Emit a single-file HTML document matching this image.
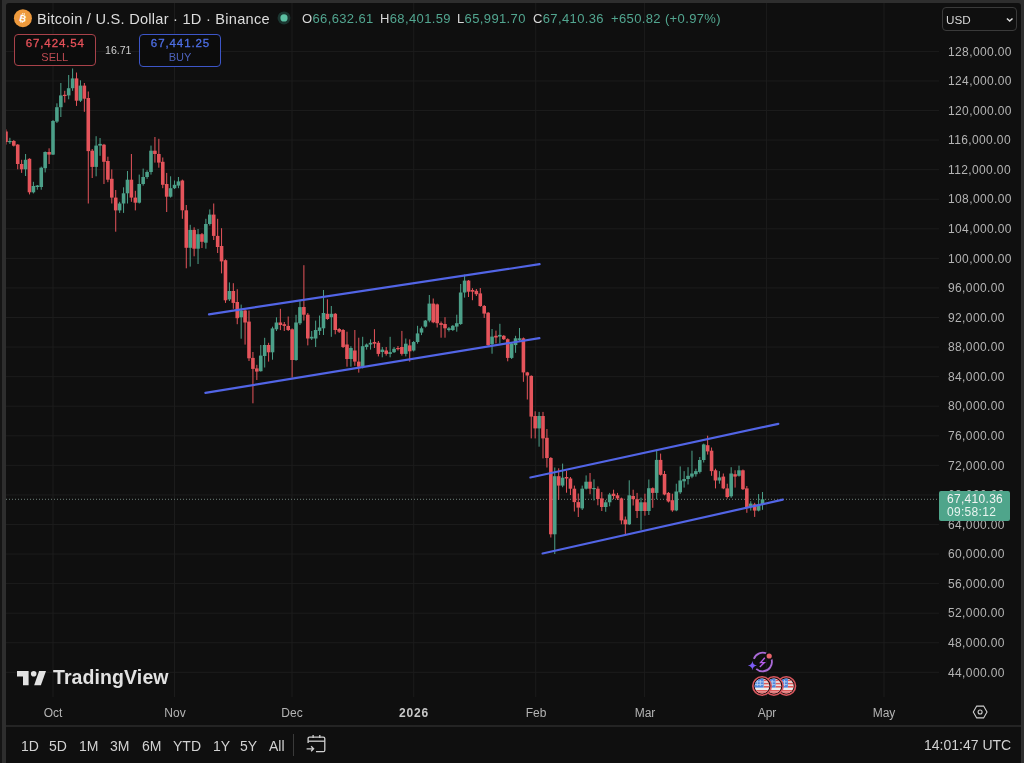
<!DOCTYPE html>
<html><head><meta charset="utf-8">
<style>
*{margin:0;padding:0;box-sizing:border-box}
html,body{width:1024px;height:763px;overflow:hidden;background:#2e2e2e;font-family:"Liberation Sans",sans-serif}
#edgeL{position:absolute;left:0;top:0;width:2px;height:763px;background:#151515}
#frame{position:absolute;left:6px;top:3px;width:1014.5px;height:760px;background:#0f0f0f;border-radius:3px 4px 0 0;overflow:hidden}
svg{position:absolute;left:0;top:0}
.abs{position:absolute;white-space:nowrap;will-change:transform}
.pl{position:absolute;will-change:transform;left:947.6px;font-size:12px;line-height:16px;color:#b4b4b4;letter-spacing:0.38px}
.tl{position:absolute;will-change:transform;top:705px;width:60px;text-align:center;font-size:12px;line-height:16px;color:#b4b4b4}
.tl.b{font-weight:bold;color:#c8c8c8;letter-spacing:0.8px}
.tb{position:absolute;will-change:transform;top:737px;font-size:14px;line-height:18px;color:#d2d2d2}
</style></head><body>
<div id="edgeL"></div>
<svg width="1024" height="763" viewBox="0 0 1024 763">
<rect x="6" y="3" width="1015" height="790" rx="3" fill="#0f0f0f"/>
<defs><clipPath id="cc"><rect x="6" y="3" width="1014" height="722"/></clipPath></defs><g clip-path="url(#cc)"><rect x="6" y="50.90" width="933" height="1" fill="#1c1c1c"/>
<rect x="6" y="80.47" width="933" height="1" fill="#1c1c1c"/>
<rect x="6" y="110.03" width="933" height="1" fill="#1c1c1c"/>
<rect x="6" y="139.60" width="933" height="1" fill="#1c1c1c"/>
<rect x="6" y="169.17" width="933" height="1" fill="#1c1c1c"/>
<rect x="6" y="198.73" width="933" height="1" fill="#1c1c1c"/>
<rect x="6" y="228.30" width="933" height="1" fill="#1c1c1c"/>
<rect x="6" y="257.86" width="933" height="1" fill="#1c1c1c"/>
<rect x="6" y="287.43" width="933" height="1" fill="#1c1c1c"/>
<rect x="6" y="317.00" width="933" height="1" fill="#1c1c1c"/>
<rect x="6" y="346.56" width="933" height="1" fill="#1c1c1c"/>
<rect x="6" y="376.13" width="933" height="1" fill="#1c1c1c"/>
<rect x="6" y="405.70" width="933" height="1" fill="#1c1c1c"/>
<rect x="6" y="435.26" width="933" height="1" fill="#1c1c1c"/>
<rect x="6" y="464.83" width="933" height="1" fill="#1c1c1c"/>
<rect x="6" y="494.40" width="933" height="1" fill="#1c1c1c"/>
<rect x="6" y="523.96" width="933" height="1" fill="#1c1c1c"/>
<rect x="6" y="553.53" width="933" height="1" fill="#1c1c1c"/>
<rect x="6" y="583.10" width="933" height="1" fill="#1c1c1c"/>
<rect x="6" y="612.66" width="933" height="1" fill="#1c1c1c"/>
<rect x="6" y="642.23" width="933" height="1" fill="#1c1c1c"/>
<rect x="6" y="671.79" width="933" height="1" fill="#1c1c1c"/>
<rect x="52.50" y="3" width="1" height="694" fill="#1c1c1c"/>
<rect x="174.00" y="3" width="1" height="694" fill="#1c1c1c"/>
<rect x="291.50" y="3" width="1" height="694" fill="#1c1c1c"/>
<rect x="413.20" y="3" width="1" height="694" fill="#1c1c1c"/>
<rect x="535.20" y="3" width="1" height="694" fill="#1c1c1c"/>
<rect x="644.10" y="3" width="1" height="694" fill="#1c1c1c"/>
<rect x="766.10" y="3" width="1" height="694" fill="#1c1c1c"/>
<rect x="883.50" y="3" width="1" height="694" fill="#1c1c1c"/>
<line x1="6" y1="499.3" x2="938" y2="499.3" stroke="#6f807a" stroke-width="1" stroke-dasharray="1 2"/>
<rect x="5.46" y="129.4" width="1" height="15.2" fill="#e5545b"/>
<rect x="4.16" y="131.5" width="3.6" height="10.5" fill="#e5545b"/>
<rect x="9.38" y="137.8" width="1" height="6.2" fill="#4ca089"/>
<rect x="8.08" y="141.0" width="3.6" height="1.2" fill="#4ca089"/>
<rect x="13.30" y="140.0" width="1" height="6.5" fill="#e5545b"/>
<rect x="12.00" y="141.0" width="3.6" height="4.7" fill="#e5545b"/>
<rect x="17.22" y="144.1" width="1" height="25.2" fill="#e5545b"/>
<rect x="15.92" y="144.6" width="3.6" height="19.4" fill="#e5545b"/>
<rect x="21.14" y="159.8" width="1" height="13.1" fill="#e5545b"/>
<rect x="19.84" y="164.0" width="3.6" height="5.3" fill="#e5545b"/>
<rect x="25.06" y="154.0" width="1" height="22.0" fill="#4ca089"/>
<rect x="23.76" y="159.8" width="3.6" height="9.5" fill="#4ca089"/>
<rect x="28.98" y="158.3" width="1" height="36.1" fill="#e5545b"/>
<rect x="27.68" y="158.8" width="3.6" height="33.5" fill="#e5545b"/>
<rect x="32.90" y="181.8" width="1" height="11.6" fill="#4ca089"/>
<rect x="31.60" y="186.0" width="3.6" height="6.3" fill="#4ca089"/>
<rect x="36.82" y="185.0" width="1" height="4.7" fill="#4ca089"/>
<rect x="35.52" y="185.5" width="3.6" height="1.5" fill="#4ca089"/>
<rect x="40.74" y="166.6" width="1" height="23.1" fill="#4ca089"/>
<rect x="39.44" y="167.7" width="3.6" height="19.3" fill="#4ca089"/>
<rect x="44.66" y="151.4" width="1" height="21.0" fill="#4ca089"/>
<rect x="43.36" y="152.0" width="3.6" height="16.2" fill="#4ca089"/>
<rect x="48.58" y="148.3" width="1" height="15.7" fill="#e5545b"/>
<rect x="47.28" y="152.0" width="3.6" height="2.6" fill="#e5545b"/>
<rect x="52.50" y="120.0" width="1" height="35.0" fill="#4ca089"/>
<rect x="51.20" y="121.0" width="3.6" height="33.6" fill="#4ca089"/>
<rect x="56.42" y="103.3" width="1" height="19.7" fill="#4ca089"/>
<rect x="55.12" y="107.2" width="3.6" height="14.4" fill="#4ca089"/>
<rect x="60.34" y="83.0" width="1" height="34.0" fill="#4ca089"/>
<rect x="59.04" y="95.4" width="3.6" height="11.8" fill="#4ca089"/>
<rect x="64.26" y="90.8" width="1" height="11.8" fill="#e5545b"/>
<rect x="62.96" y="94.8" width="3.6" height="1.2" fill="#e5545b"/>
<rect x="68.18" y="75.0" width="1" height="24.3" fill="#4ca089"/>
<rect x="66.88" y="88.2" width="3.6" height="7.2" fill="#4ca089"/>
<rect x="72.10" y="68.5" width="1" height="22.3" fill="#4ca089"/>
<rect x="70.80" y="78.4" width="3.6" height="9.8" fill="#4ca089"/>
<rect x="76.02" y="72.5" width="1" height="33.4" fill="#e5545b"/>
<rect x="74.72" y="78.4" width="3.6" height="22.3" fill="#e5545b"/>
<rect x="79.94" y="80.3" width="1" height="21.7" fill="#4ca089"/>
<rect x="78.64" y="85.6" width="3.6" height="15.1" fill="#4ca089"/>
<rect x="83.86" y="83.0" width="1" height="28.8" fill="#e5545b"/>
<rect x="82.56" y="85.6" width="3.6" height="13.1" fill="#e5545b"/>
<rect x="87.78" y="91.5" width="1" height="112.0" fill="#e5545b"/>
<rect x="86.48" y="98.0" width="3.6" height="53.1" fill="#e5545b"/>
<rect x="91.70" y="149.0" width="1" height="29.0" fill="#e5545b"/>
<rect x="90.40" y="150.7" width="3.6" height="16.2" fill="#e5545b"/>
<rect x="95.62" y="136.2" width="1" height="40.1" fill="#4ca089"/>
<rect x="94.32" y="145.6" width="3.6" height="21.3" fill="#4ca089"/>
<rect x="99.54" y="138.0" width="1" height="17.8" fill="#4ca089"/>
<rect x="98.24" y="143.9" width="3.6" height="1.7" fill="#4ca089"/>
<rect x="103.46" y="143.9" width="1" height="40.1" fill="#e5545b"/>
<rect x="102.16" y="144.7" width="3.6" height="17.1" fill="#e5545b"/>
<rect x="107.38" y="156.7" width="1" height="25.5" fill="#e5545b"/>
<rect x="106.08" y="161.0" width="3.6" height="18.7" fill="#e5545b"/>
<rect x="111.30" y="169.4" width="1" height="34.1" fill="#e5545b"/>
<rect x="110.00" y="178.8" width="3.6" height="18.8" fill="#e5545b"/>
<rect x="115.22" y="190.0" width="1" height="41.7" fill="#e5545b"/>
<rect x="113.92" y="197.6" width="3.6" height="12.8" fill="#e5545b"/>
<rect x="119.14" y="201.8" width="1" height="11.1" fill="#4ca089"/>
<rect x="117.84" y="203.5" width="3.6" height="6.9" fill="#4ca089"/>
<rect x="123.06" y="187.3" width="1" height="25.6" fill="#4ca089"/>
<rect x="121.76" y="193.3" width="3.6" height="10.2" fill="#4ca089"/>
<rect x="126.98" y="171.0" width="1" height="32.5" fill="#4ca089"/>
<rect x="125.68" y="179.7" width="3.6" height="13.6" fill="#4ca089"/>
<rect x="130.90" y="154.0" width="1" height="47.8" fill="#e5545b"/>
<rect x="129.60" y="179.7" width="3.6" height="17.9" fill="#e5545b"/>
<rect x="134.82" y="190.8" width="1" height="19.6" fill="#e5545b"/>
<rect x="133.52" y="197.6" width="3.6" height="5.1" fill="#e5545b"/>
<rect x="138.74" y="174.6" width="1" height="28.9" fill="#4ca089"/>
<rect x="137.44" y="184.0" width="3.6" height="18.7" fill="#4ca089"/>
<rect x="142.66" y="168.6" width="1" height="17.0" fill="#4ca089"/>
<rect x="141.36" y="177.0" width="3.6" height="7.0" fill="#4ca089"/>
<rect x="146.58" y="170.3" width="1" height="8.5" fill="#4ca089"/>
<rect x="145.28" y="172.0" width="3.6" height="5.0" fill="#4ca089"/>
<rect x="150.50" y="145.6" width="1" height="29.0" fill="#4ca089"/>
<rect x="149.20" y="150.7" width="3.6" height="21.3" fill="#4ca089"/>
<rect x="154.42" y="137.0" width="1" height="25.6" fill="#e5545b"/>
<rect x="153.12" y="150.7" width="3.6" height="3.3" fill="#e5545b"/>
<rect x="158.34" y="138.8" width="1" height="28.9" fill="#e5545b"/>
<rect x="157.04" y="154.0" width="3.6" height="8.6" fill="#e5545b"/>
<rect x="162.26" y="157.5" width="1" height="30.7" fill="#e5545b"/>
<rect x="160.96" y="161.8" width="3.6" height="23.0" fill="#e5545b"/>
<rect x="166.18" y="172.9" width="1" height="39.1" fill="#e5545b"/>
<rect x="164.88" y="184.0" width="3.6" height="12.7" fill="#e5545b"/>
<rect x="170.10" y="176.3" width="1" height="21.3" fill="#4ca089"/>
<rect x="168.80" y="188.2" width="3.6" height="8.5" fill="#4ca089"/>
<rect x="174.02" y="180.5" width="1" height="8.5" fill="#4ca089"/>
<rect x="172.72" y="184.8" width="3.6" height="3.4" fill="#4ca089"/>
<rect x="177.94" y="177.0" width="1" height="11.2" fill="#4ca089"/>
<rect x="176.64" y="181.4" width="3.6" height="4.2" fill="#4ca089"/>
<rect x="181.86" y="179.6" width="1" height="39.2" fill="#e5545b"/>
<rect x="180.56" y="180.5" width="3.6" height="29.8" fill="#e5545b"/>
<rect x="185.78" y="205.0" width="1" height="63.3" fill="#e5545b"/>
<rect x="184.48" y="210.3" width="3.6" height="37.5" fill="#e5545b"/>
<rect x="189.70" y="224.8" width="1" height="41.8" fill="#4ca089"/>
<rect x="188.40" y="229.9" width="3.6" height="17.9" fill="#4ca089"/>
<rect x="193.62" y="227.3" width="1" height="29.0" fill="#e5545b"/>
<rect x="192.32" y="229.9" width="3.6" height="18.8" fill="#e5545b"/>
<rect x="197.54" y="229.0" width="1" height="35.0" fill="#4ca089"/>
<rect x="196.24" y="234.2" width="3.6" height="14.5" fill="#4ca089"/>
<rect x="201.46" y="233.0" width="1" height="15.0" fill="#e5545b"/>
<rect x="200.16" y="234.2" width="3.6" height="7.6" fill="#e5545b"/>
<rect x="205.38" y="218.8" width="1" height="29.9" fill="#4ca089"/>
<rect x="204.08" y="224.0" width="3.6" height="18.7" fill="#4ca089"/>
<rect x="209.30" y="209.4" width="1" height="16.2" fill="#4ca089"/>
<rect x="208.00" y="214.6" width="3.6" height="9.4" fill="#4ca089"/>
<rect x="213.22" y="203.5" width="1" height="36.5" fill="#e5545b"/>
<rect x="211.92" y="214.6" width="3.6" height="21.3" fill="#e5545b"/>
<rect x="217.14" y="218.8" width="1" height="34.2" fill="#e5545b"/>
<rect x="215.84" y="235.9" width="3.6" height="11.1" fill="#e5545b"/>
<rect x="221.06" y="228.2" width="1" height="45.2" fill="#e5545b"/>
<rect x="219.76" y="246.0" width="3.6" height="15.4" fill="#e5545b"/>
<rect x="224.98" y="259.4" width="1" height="43.5" fill="#e5545b"/>
<rect x="223.68" y="260.2" width="3.6" height="40.1" fill="#e5545b"/>
<rect x="228.90" y="282.4" width="1" height="18.6" fill="#4ca089"/>
<rect x="227.60" y="291.0" width="3.6" height="8.4" fill="#4ca089"/>
<rect x="232.82" y="283.2" width="1" height="25.6" fill="#e5545b"/>
<rect x="231.52" y="291.0" width="3.6" height="11.9" fill="#e5545b"/>
<rect x="236.74" y="289.2" width="1" height="35.0" fill="#e5545b"/>
<rect x="235.44" y="302.0" width="3.6" height="16.2" fill="#e5545b"/>
<rect x="240.66" y="304.6" width="1" height="34.1" fill="#4ca089"/>
<rect x="239.36" y="310.5" width="3.6" height="6.8" fill="#4ca089"/>
<rect x="244.58" y="309.7" width="1" height="34.9" fill="#e5545b"/>
<rect x="243.28" y="310.5" width="3.6" height="12.0" fill="#e5545b"/>
<rect x="248.50" y="310.5" width="1" height="50.5" fill="#e5545b"/>
<rect x="247.20" y="321.6" width="3.6" height="36.7" fill="#e5545b"/>
<rect x="252.42" y="352.0" width="1" height="51.3" fill="#e5545b"/>
<rect x="251.12" y="357.9" width="3.6" height="11.0" fill="#e5545b"/>
<rect x="256.34" y="364.8" width="1" height="15.2" fill="#e5545b"/>
<rect x="255.04" y="368.4" width="3.6" height="3.2" fill="#e5545b"/>
<rect x="260.26" y="345.0" width="1" height="26.6" fill="#4ca089"/>
<rect x="258.96" y="355.6" width="3.6" height="15.6" fill="#4ca089"/>
<rect x="264.18" y="337.8" width="1" height="29.7" fill="#4ca089"/>
<rect x="262.88" y="345.0" width="3.6" height="11.0" fill="#4ca089"/>
<rect x="268.10" y="342.8" width="1" height="18.8" fill="#e5545b"/>
<rect x="266.80" y="345.0" width="3.6" height="7.3" fill="#e5545b"/>
<rect x="272.02" y="326.7" width="1" height="33.0" fill="#4ca089"/>
<rect x="270.72" y="328.4" width="3.6" height="23.9" fill="#4ca089"/>
<rect x="275.94" y="317.3" width="1" height="13.7" fill="#4ca089"/>
<rect x="274.64" y="322.5" width="3.6" height="6.8" fill="#4ca089"/>
<rect x="279.86" y="308.8" width="1" height="21.3" fill="#e5545b"/>
<rect x="278.56" y="322.5" width="3.6" height="2.5" fill="#e5545b"/>
<rect x="283.78" y="322.0" width="1" height="9.0" fill="#e5545b"/>
<rect x="282.48" y="324.2" width="3.6" height="1.7" fill="#e5545b"/>
<rect x="287.70" y="316.5" width="1" height="14.5" fill="#e5545b"/>
<rect x="286.40" y="325.9" width="3.6" height="4.1" fill="#e5545b"/>
<rect x="291.62" y="328.4" width="1" height="49.2" fill="#e5545b"/>
<rect x="290.32" y="329.3" width="3.6" height="30.7" fill="#e5545b"/>
<rect x="295.54" y="314.8" width="1" height="46.0" fill="#4ca089"/>
<rect x="294.24" y="322.5" width="3.6" height="37.5" fill="#4ca089"/>
<rect x="299.46" y="301.2" width="1" height="23.8" fill="#4ca089"/>
<rect x="298.16" y="307.1" width="3.6" height="16.2" fill="#4ca089"/>
<rect x="303.38" y="265.2" width="1" height="55.4" fill="#e5545b"/>
<rect x="302.08" y="307.0" width="3.6" height="7.7" fill="#e5545b"/>
<rect x="307.30" y="313.0" width="1" height="32.4" fill="#e5545b"/>
<rect x="306.00" y="314.7" width="3.6" height="23.8" fill="#e5545b"/>
<rect x="311.22" y="331.0" width="1" height="9.0" fill="#4ca089"/>
<rect x="309.92" y="336.8" width="3.6" height="1.7" fill="#4ca089"/>
<rect x="315.14" y="320.6" width="1" height="26.4" fill="#4ca089"/>
<rect x="313.84" y="330.0" width="3.6" height="8.5" fill="#4ca089"/>
<rect x="319.06" y="315.5" width="1" height="19.5" fill="#4ca089"/>
<rect x="317.76" y="327.5" width="3.6" height="3.4" fill="#4ca089"/>
<rect x="322.98" y="290.0" width="1" height="45.0" fill="#4ca089"/>
<rect x="321.68" y="313.0" width="3.6" height="15.3" fill="#4ca089"/>
<rect x="326.90" y="299.3" width="1" height="20.5" fill="#e5545b"/>
<rect x="325.60" y="313.8" width="3.6" height="5.2" fill="#e5545b"/>
<rect x="330.82" y="306.0" width="1" height="30.8" fill="#4ca089"/>
<rect x="329.52" y="313.8" width="3.6" height="3.4" fill="#4ca089"/>
<rect x="334.74" y="313.0" width="1" height="21.3" fill="#e5545b"/>
<rect x="333.44" y="313.8" width="3.6" height="16.2" fill="#e5545b"/>
<rect x="338.66" y="328.0" width="1" height="5.0" fill="#e5545b"/>
<rect x="337.36" y="329.0" width="3.6" height="2.7" fill="#e5545b"/>
<rect x="342.58" y="329.0" width="1" height="19.0" fill="#e5545b"/>
<rect x="341.28" y="330.0" width="3.6" height="17.0" fill="#e5545b"/>
<rect x="346.50" y="331.7" width="1" height="35.0" fill="#e5545b"/>
<rect x="345.20" y="344.5" width="3.6" height="14.5" fill="#e5545b"/>
<rect x="350.42" y="346.2" width="1" height="20.5" fill="#4ca089"/>
<rect x="349.12" y="348.0" width="3.6" height="11.0" fill="#4ca089"/>
<rect x="354.34" y="330.0" width="1" height="35.8" fill="#e5545b"/>
<rect x="353.04" y="350.5" width="3.6" height="11.1" fill="#e5545b"/>
<rect x="358.26" y="337.7" width="1" height="34.9" fill="#e5545b"/>
<rect x="356.96" y="361.6" width="3.6" height="5.1" fill="#e5545b"/>
<rect x="362.18" y="336.8" width="1" height="31.6" fill="#4ca089"/>
<rect x="360.88" y="346.2" width="3.6" height="20.5" fill="#4ca089"/>
<rect x="366.10" y="343.5" width="1" height="6.1" fill="#4ca089"/>
<rect x="364.80" y="344.5" width="3.6" height="2.5" fill="#4ca089"/>
<rect x="370.02" y="339.4" width="1" height="10.2" fill="#4ca089"/>
<rect x="368.72" y="342.8" width="3.6" height="1.7" fill="#4ca089"/>
<rect x="373.94" y="329.2" width="1" height="18.8" fill="#e5545b"/>
<rect x="372.64" y="342.0" width="3.6" height="1.7" fill="#e5545b"/>
<rect x="377.86" y="341.0" width="1" height="15.4" fill="#e5545b"/>
<rect x="376.56" y="342.8" width="3.6" height="11.1" fill="#e5545b"/>
<rect x="381.78" y="347.0" width="1" height="10.3" fill="#4ca089"/>
<rect x="380.48" y="349.6" width="3.6" height="2.4" fill="#4ca089"/>
<rect x="385.70" y="347.0" width="1" height="8.6" fill="#e5545b"/>
<rect x="384.40" y="350.5" width="3.6" height="3.4" fill="#e5545b"/>
<rect x="389.62" y="336.8" width="1" height="20.5" fill="#4ca089"/>
<rect x="388.32" y="352.2" width="3.6" height="1.7" fill="#4ca089"/>
<rect x="393.54" y="347.0" width="1" height="6.0" fill="#4ca089"/>
<rect x="392.24" y="348.8" width="3.6" height="3.4" fill="#4ca089"/>
<rect x="397.46" y="346.0" width="1" height="4.5" fill="#e5545b"/>
<rect x="396.16" y="348.0" width="3.6" height="1.2" fill="#e5545b"/>
<rect x="401.38" y="330.9" width="1" height="24.7" fill="#e5545b"/>
<rect x="400.08" y="347.0" width="3.6" height="6.9" fill="#e5545b"/>
<rect x="405.30" y="338.5" width="1" height="17.9" fill="#4ca089"/>
<rect x="404.00" y="343.7" width="3.6" height="10.2" fill="#4ca089"/>
<rect x="409.22" y="339.4" width="1" height="22.2" fill="#e5545b"/>
<rect x="407.92" y="345.4" width="3.6" height="5.9" fill="#e5545b"/>
<rect x="413.14" y="341.0" width="1" height="10.5" fill="#4ca089"/>
<rect x="411.84" y="342.0" width="3.6" height="8.5" fill="#4ca089"/>
<rect x="417.06" y="325.8" width="1" height="17.9" fill="#4ca089"/>
<rect x="415.76" y="333.4" width="3.6" height="8.6" fill="#4ca089"/>
<rect x="420.98" y="326.6" width="1" height="8.5" fill="#4ca089"/>
<rect x="419.68" y="328.3" width="3.6" height="4.3" fill="#4ca089"/>
<rect x="424.90" y="320.0" width="1" height="7.5" fill="#4ca089"/>
<rect x="423.60" y="320.6" width="3.6" height="6.0" fill="#4ca089"/>
<rect x="428.82" y="295.0" width="1" height="27.3" fill="#4ca089"/>
<rect x="427.52" y="303.6" width="3.6" height="17.0" fill="#4ca089"/>
<rect x="432.74" y="298.5" width="1" height="24.7" fill="#e5545b"/>
<rect x="431.44" y="303.6" width="3.6" height="18.7" fill="#e5545b"/>
<rect x="436.66" y="303.6" width="1" height="23.9" fill="#e5545b"/>
<rect x="435.36" y="304.4" width="3.6" height="18.8" fill="#e5545b"/>
<rect x="440.58" y="321.5" width="1" height="16.2" fill="#e5545b"/>
<rect x="439.28" y="323.2" width="3.6" height="1.7" fill="#e5545b"/>
<rect x="444.50" y="317.2" width="1" height="20.5" fill="#e5545b"/>
<rect x="443.20" y="324.0" width="3.6" height="4.3" fill="#e5545b"/>
<rect x="448.42" y="327.0" width="1" height="4.5" fill="#4ca089"/>
<rect x="447.12" y="328.3" width="3.6" height="1.7" fill="#4ca089"/>
<rect x="452.34" y="325.0" width="1" height="6.0" fill="#4ca089"/>
<rect x="451.04" y="325.8" width="3.6" height="4.2" fill="#4ca089"/>
<rect x="456.26" y="314.7" width="1" height="17.0" fill="#4ca089"/>
<rect x="454.96" y="323.2" width="3.6" height="3.4" fill="#4ca089"/>
<rect x="460.18" y="284.0" width="1" height="40.9" fill="#4ca089"/>
<rect x="458.88" y="292.5" width="3.6" height="31.5" fill="#4ca089"/>
<rect x="464.10" y="274.6" width="1" height="23.0" fill="#4ca089"/>
<rect x="462.80" y="280.6" width="3.6" height="11.9" fill="#4ca089"/>
<rect x="468.02" y="280.0" width="1" height="17.0" fill="#e5545b"/>
<rect x="466.72" y="280.6" width="3.6" height="11.1" fill="#e5545b"/>
<rect x="471.94" y="288.2" width="1" height="12.0" fill="#e5545b"/>
<rect x="470.64" y="290.0" width="3.6" height="1.7" fill="#e5545b"/>
<rect x="475.86" y="289.0" width="1" height="7.0" fill="#e5545b"/>
<rect x="474.56" y="290.8" width="3.6" height="3.4" fill="#e5545b"/>
<rect x="479.78" y="288.0" width="1" height="18.8" fill="#e5545b"/>
<rect x="478.48" y="293.4" width="3.6" height="12.6" fill="#e5545b"/>
<rect x="483.70" y="305.0" width="1" height="12.9" fill="#e5545b"/>
<rect x="482.40" y="306.0" width="3.6" height="7.6" fill="#e5545b"/>
<rect x="487.62" y="312.0" width="1" height="34.0" fill="#e5545b"/>
<rect x="486.32" y="312.7" width="3.6" height="32.4" fill="#e5545b"/>
<rect x="491.54" y="329.0" width="1" height="24.7" fill="#4ca089"/>
<rect x="490.24" y="336.6" width="3.6" height="7.7" fill="#4ca089"/>
<rect x="495.46" y="330.6" width="1" height="12.8" fill="#e5545b"/>
<rect x="494.16" y="335.8" width="3.6" height="1.7" fill="#e5545b"/>
<rect x="499.38" y="323.8" width="1" height="19.6" fill="#4ca089"/>
<rect x="498.08" y="334.9" width="3.6" height="1.7" fill="#4ca089"/>
<rect x="503.30" y="335.0" width="1" height="5.0" fill="#e5545b"/>
<rect x="502.00" y="335.8" width="3.6" height="3.4" fill="#e5545b"/>
<rect x="507.22" y="338.3" width="1" height="23.0" fill="#e5545b"/>
<rect x="505.92" y="339.2" width="3.6" height="18.7" fill="#e5545b"/>
<rect x="511.14" y="342.0" width="1" height="17.0" fill="#4ca089"/>
<rect x="509.84" y="343.4" width="3.6" height="14.5" fill="#4ca089"/>
<rect x="515.06" y="335.8" width="1" height="17.0" fill="#4ca089"/>
<rect x="513.76" y="338.3" width="3.6" height="6.8" fill="#4ca089"/>
<rect x="518.98" y="328.0" width="1" height="12.9" fill="#4ca089"/>
<rect x="517.68" y="338.3" width="3.6" height="1.7" fill="#4ca089"/>
<rect x="522.90" y="337.5" width="1" height="44.3" fill="#e5545b"/>
<rect x="521.60" y="338.3" width="3.6" height="34.1" fill="#e5545b"/>
<rect x="526.82" y="371.8" width="1" height="27.7" fill="#e5545b"/>
<rect x="525.52" y="372.4" width="3.6" height="3.1" fill="#e5545b"/>
<rect x="530.74" y="375.3" width="1" height="63.1" fill="#e5545b"/>
<rect x="529.44" y="375.9" width="3.6" height="40.7" fill="#e5545b"/>
<rect x="534.66" y="411.3" width="1" height="27.1" fill="#e5545b"/>
<rect x="533.36" y="416.0" width="3.6" height="12.4" fill="#e5545b"/>
<rect x="538.58" y="411.9" width="1" height="34.8" fill="#4ca089"/>
<rect x="537.28" y="416.0" width="3.6" height="12.4" fill="#4ca089"/>
<rect x="542.50" y="411.9" width="1" height="46.5" fill="#e5545b"/>
<rect x="541.20" y="416.0" width="3.6" height="22.4" fill="#e5545b"/>
<rect x="546.42" y="429.0" width="1" height="38.5" fill="#e5545b"/>
<rect x="545.12" y="437.8" width="3.6" height="20.2" fill="#e5545b"/>
<rect x="550.34" y="457.0" width="1" height="80.5" fill="#e5545b"/>
<rect x="549.04" y="458.0" width="3.6" height="76.3" fill="#e5545b"/>
<rect x="554.26" y="467.5" width="1" height="86.5" fill="#4ca089"/>
<rect x="552.96" y="476.2" width="3.6" height="58.1" fill="#4ca089"/>
<rect x="558.18" y="468.3" width="1" height="31.4" fill="#e5545b"/>
<rect x="556.88" y="476.2" width="3.6" height="9.4" fill="#e5545b"/>
<rect x="562.10" y="463.6" width="1" height="23.6" fill="#4ca089"/>
<rect x="560.80" y="477.7" width="3.6" height="7.9" fill="#4ca089"/>
<rect x="566.02" y="470.7" width="1" height="22.0" fill="#e5545b"/>
<rect x="564.72" y="477.0" width="3.6" height="1.5" fill="#e5545b"/>
<rect x="569.94" y="477.0" width="1" height="18.0" fill="#e5545b"/>
<rect x="568.64" y="478.5" width="3.6" height="10.2" fill="#e5545b"/>
<rect x="573.86" y="485.6" width="1" height="25.9" fill="#e5545b"/>
<rect x="572.56" y="488.7" width="3.6" height="13.4" fill="#e5545b"/>
<rect x="577.78" y="493.5" width="1" height="23.5" fill="#e5545b"/>
<rect x="576.48" y="502.1" width="3.6" height="5.5" fill="#e5545b"/>
<rect x="581.70" y="485.6" width="1" height="24.4" fill="#4ca089"/>
<rect x="580.40" y="488.7" width="3.6" height="19.7" fill="#4ca089"/>
<rect x="585.62" y="475.4" width="1" height="14.1" fill="#4ca089"/>
<rect x="584.32" y="481.7" width="3.6" height="7.0" fill="#4ca089"/>
<rect x="589.54" y="473.0" width="1" height="21.2" fill="#e5545b"/>
<rect x="588.24" y="481.7" width="3.6" height="7.0" fill="#e5545b"/>
<rect x="593.46" y="479.3" width="1" height="21.2" fill="#4ca089"/>
<rect x="592.16" y="488.0" width="3.6" height="1.2" fill="#4ca089"/>
<rect x="597.38" y="486.4" width="1" height="18.9" fill="#e5545b"/>
<rect x="596.08" y="488.7" width="3.6" height="10.3" fill="#e5545b"/>
<rect x="601.30" y="492.1" width="1" height="18.9" fill="#e5545b"/>
<rect x="600.00" y="498.4" width="3.6" height="8.6" fill="#e5545b"/>
<rect x="605.22" y="500.0" width="1" height="11.8" fill="#4ca089"/>
<rect x="603.92" y="502.3" width="3.6" height="4.7" fill="#4ca089"/>
<rect x="609.14" y="492.9" width="1" height="13.4" fill="#4ca089"/>
<rect x="607.84" y="494.5" width="3.6" height="7.8" fill="#4ca089"/>
<rect x="613.06" y="489.7" width="1" height="9.5" fill="#e5545b"/>
<rect x="611.76" y="493.7" width="3.6" height="2.3" fill="#e5545b"/>
<rect x="616.98" y="492.9" width="1" height="7.1" fill="#e5545b"/>
<rect x="615.68" y="495.3" width="3.6" height="3.1" fill="#e5545b"/>
<rect x="620.90" y="497.6" width="1" height="26.7" fill="#e5545b"/>
<rect x="619.60" y="498.4" width="3.6" height="22.0" fill="#e5545b"/>
<rect x="624.82" y="516.5" width="1" height="18.1" fill="#e5545b"/>
<rect x="623.52" y="519.6" width="3.6" height="4.7" fill="#e5545b"/>
<rect x="628.74" y="480.3" width="1" height="44.7" fill="#4ca089"/>
<rect x="627.44" y="495.3" width="3.6" height="29.0" fill="#4ca089"/>
<rect x="632.66" y="489.7" width="1" height="15.8" fill="#e5545b"/>
<rect x="631.36" y="496.0" width="3.6" height="3.2" fill="#e5545b"/>
<rect x="636.58" y="492.9" width="1" height="25.1" fill="#e5545b"/>
<rect x="635.28" y="499.2" width="3.6" height="11.8" fill="#e5545b"/>
<rect x="640.50" y="497.6" width="1" height="32.2" fill="#4ca089"/>
<rect x="639.20" y="502.3" width="3.6" height="8.7" fill="#4ca089"/>
<rect x="644.42" y="493.7" width="1" height="22.0" fill="#e5545b"/>
<rect x="643.12" y="502.3" width="3.6" height="8.7" fill="#e5545b"/>
<rect x="648.34" y="479.5" width="1" height="35.5" fill="#4ca089"/>
<rect x="647.04" y="488.2" width="3.6" height="22.8" fill="#4ca089"/>
<rect x="652.26" y="487.4" width="1" height="20.4" fill="#e5545b"/>
<rect x="650.96" y="488.2" width="3.6" height="4.7" fill="#e5545b"/>
<rect x="656.18" y="450.4" width="1" height="48.8" fill="#4ca089"/>
<rect x="654.88" y="459.9" width="3.6" height="33.0" fill="#4ca089"/>
<rect x="660.10" y="453.6" width="1" height="22.0" fill="#e5545b"/>
<rect x="658.80" y="459.9" width="3.6" height="14.9" fill="#e5545b"/>
<rect x="664.02" y="470.9" width="1" height="24.4" fill="#e5545b"/>
<rect x="662.72" y="474.0" width="3.6" height="20.5" fill="#e5545b"/>
<rect x="667.94" y="492.0" width="1" height="10.5" fill="#e5545b"/>
<rect x="666.64" y="492.9" width="3.6" height="8.6" fill="#e5545b"/>
<rect x="671.86" y="493.7" width="1" height="18.1" fill="#e5545b"/>
<rect x="670.56" y="500.2" width="3.6" height="10.2" fill="#e5545b"/>
<rect x="675.78" y="483.7" width="1" height="27.5" fill="#4ca089"/>
<rect x="674.48" y="491.5" width="3.6" height="18.9" fill="#4ca089"/>
<rect x="679.70" y="466.4" width="1" height="27.5" fill="#4ca089"/>
<rect x="678.40" y="480.5" width="3.6" height="11.8" fill="#4ca089"/>
<rect x="683.62" y="471.1" width="1" height="16.5" fill="#4ca089"/>
<rect x="682.32" y="479.0" width="3.6" height="2.3" fill="#4ca089"/>
<rect x="687.54" y="467.2" width="1" height="17.3" fill="#4ca089"/>
<rect x="686.24" y="475.8" width="3.6" height="3.2" fill="#4ca089"/>
<rect x="691.46" y="450.7" width="1" height="27.5" fill="#4ca089"/>
<rect x="690.16" y="473.5" width="3.6" height="3.1" fill="#4ca089"/>
<rect x="695.38" y="468.7" width="1" height="7.9" fill="#4ca089"/>
<rect x="694.08" y="471.1" width="3.6" height="3.1" fill="#4ca089"/>
<rect x="699.30" y="457.0" width="1" height="16.5" fill="#4ca089"/>
<rect x="698.00" y="460.0" width="3.6" height="11.9" fill="#4ca089"/>
<rect x="703.22" y="443.6" width="1" height="18.9" fill="#4ca089"/>
<rect x="701.92" y="444.4" width="3.6" height="15.6" fill="#4ca089"/>
<rect x="707.14" y="435.7" width="1" height="18.9" fill="#e5545b"/>
<rect x="705.84" y="445.2" width="3.6" height="6.2" fill="#e5545b"/>
<rect x="711.06" y="447.5" width="1" height="28.3" fill="#e5545b"/>
<rect x="709.76" y="450.7" width="3.6" height="20.4" fill="#e5545b"/>
<rect x="714.98" y="468.7" width="1" height="19.7" fill="#e5545b"/>
<rect x="713.68" y="470.3" width="3.6" height="10.2" fill="#e5545b"/>
<rect x="718.90" y="471.1" width="1" height="12.6" fill="#4ca089"/>
<rect x="717.60" y="477.4" width="3.6" height="3.1" fill="#4ca089"/>
<rect x="722.82" y="473.5" width="1" height="15.7" fill="#e5545b"/>
<rect x="721.52" y="476.6" width="3.6" height="11.8" fill="#e5545b"/>
<rect x="726.74" y="483.7" width="1" height="14.9" fill="#e5545b"/>
<rect x="725.44" y="488.4" width="3.6" height="8.6" fill="#e5545b"/>
<rect x="730.66" y="467.2" width="1" height="30.6" fill="#4ca089"/>
<rect x="729.36" y="473.5" width="3.6" height="22.8" fill="#4ca089"/>
<rect x="734.58" y="470.3" width="1" height="17.3" fill="#e5545b"/>
<rect x="733.28" y="474.2" width="3.6" height="2.4" fill="#e5545b"/>
<rect x="738.50" y="465.6" width="1" height="11.0" fill="#4ca089"/>
<rect x="737.20" y="470.3" width="3.6" height="5.5" fill="#4ca089"/>
<rect x="742.42" y="469.5" width="1" height="20.5" fill="#e5545b"/>
<rect x="741.12" y="470.3" width="3.6" height="18.9" fill="#e5545b"/>
<rect x="746.34" y="486.0" width="1" height="26.8" fill="#e5545b"/>
<rect x="745.04" y="488.4" width="3.6" height="18.9" fill="#e5545b"/>
<rect x="750.26" y="501.2" width="1" height="9.4" fill="#4ca089"/>
<rect x="748.96" y="503.6" width="3.6" height="3.1" fill="#4ca089"/>
<rect x="754.18" y="502.8" width="1" height="14.1" fill="#e5545b"/>
<rect x="752.88" y="504.3" width="3.6" height="6.3" fill="#e5545b"/>
<rect x="758.10" y="494.1" width="1" height="17.3" fill="#4ca089"/>
<rect x="756.80" y="504.3" width="3.6" height="6.3" fill="#4ca089"/>
<rect x="762.02" y="492.0" width="1" height="17.8" fill="#4ca089"/>
<rect x="760.72" y="499.3" width="3.6" height="5.7" fill="#4ca089"/>
<line x1="209" y1="314.3" x2="539.6" y2="264.2" stroke="#5265e6" stroke-width="2.2" stroke-linecap="round"/>
<line x1="205.4" y1="392.9" x2="539.4" y2="338.1" stroke="#5265e6" stroke-width="2.2" stroke-linecap="round"/>
<line x1="530.4" y1="477.5" x2="778.3" y2="423.8" stroke="#5265e6" stroke-width="2.2" stroke-linecap="round"/>
<line x1="542.6" y1="553.5" x2="782.8" y2="499.6" stroke="#5265e6" stroke-width="2.2" stroke-linecap="round"/></g>
<rect x="6" y="725" width="1015" height="2" fill="#242424"/>
</svg>
<!-- header -->
<svg width="40" height="40" style="left:0;top:0">
<circle cx="22.9" cy="18.2" r="9" fill="#ee9a3d"/>
<g transform="rotate(14 22.9 18.2)"><text x="23" y="21.6" text-anchor="middle" font-family="Liberation Sans" font-weight="bold" font-size="9.5" fill="#fff">B</text>
<path d="M21.7 13.2 V14.6 M23.3 13.2 V14.6 M21.7 21.5 V22.9 M23.3 21.5 V22.9" stroke="#fff" stroke-width="0.9"/></g>
</svg>
<div class="abs" style="left:36.5px;top:10px;font-size:14.6px;line-height:18px;color:#dcdcdc;letter-spacing:0.25px">Bitcoin / U.S. Dollar · 1D · Binance</div>
<svg width="20" height="20" style="left:274px;top:8px"><circle cx="10" cy="9.9" r="6.5" fill="#1b3530"/><circle cx="10" cy="9.9" r="3.6" fill="#5cc0a3"/></svg>
<div class="abs" style="left:301.5px;top:11px;font-size:13px;line-height:16px;letter-spacing:0.37px;color:#d8d8d8">O<span style="color:#52a690">66,632.61</span></div>
<div class="abs" style="left:379.5px;top:11px;font-size:13px;line-height:16px;letter-spacing:0.37px;color:#d8d8d8">H<span style="color:#52a690">68,401.59</span></div>
<div class="abs" style="left:457px;top:11px;font-size:13px;line-height:16px;letter-spacing:0.37px;color:#d8d8d8">L<span style="color:#52a690">65,991.70</span></div>
<div class="abs" style="left:533.3px;top:11px;font-size:13px;line-height:16px;letter-spacing:0.37px;color:#d8d8d8">C<span style="color:#52a690">67,410.36</span></div>
<div class="abs" style="left:610.7px;top:11px;font-size:13px;line-height:16px;letter-spacing:0.37px;color:#52a690">+650.82 (+0.97%)</div>

<div class="abs" style="left:14.4px;top:33.6px;width:81.6px;height:32.4px;border:1px solid #a8424a;border-radius:4px;background:#0c0c0c"></div>
<div class="abs" style="left:14.4px;top:36px;width:81.6px;text-align:center;font-size:11.5px;line-height:14px;color:#e8525a;-webkit-text-stroke:0.3px #e8525a;letter-spacing:0.9px;padding-left:1px">67,424.54</div>
<div class="abs" style="left:14.4px;top:50px;width:81.6px;text-align:center;font-size:11px;line-height:14px;color:#bf4b53">SELL</div>
<div class="abs" style="left:105.2px;top:43px;font-size:10.6px;line-height:14px;color:#cfcfcf">16.71</div>
<div class="abs" style="left:139.25px;top:33.75px;width:82px;height:33.25px;border:1px solid #3d56c8;border-radius:4px;background:#0c0c0c"></div>
<div class="abs" style="left:139.25px;top:36px;width:82px;text-align:center;font-size:11.5px;line-height:14px;color:#4e6fe6;-webkit-text-stroke:0.3px #4e6fe6;letter-spacing:0.9px;padding-left:1px">67,441.25</div>
<div class="abs" style="left:139.25px;top:50px;width:82px;text-align:center;font-size:11px;line-height:14px;color:#4d62bc">BUY</div>

<!-- USD -->
<div class="abs" style="left:942px;top:7.3px;width:75px;height:24px;border:1px solid #3a3a3a;border-radius:4px;background:#0f0f0f"></div>
<div class="abs" style="left:946.2px;top:12px;font-size:11.7px;line-height:16px;color:#d8d8d8">USD</div>
<svg width="12" height="10" style="left:1004px;top:15px"><path d="M2.9 3.4 L5.7 6.1 L8.5 3.4" stroke="#e0e0e0" stroke-width="1.4" fill="none"/></svg>

<div class="pl" style="top:43.6px">128,000.00</div>
<div class="pl" style="top:73.2px">124,000.00</div>
<div class="pl" style="top:102.7px">120,000.00</div>
<div class="pl" style="top:132.3px">116,000.00</div>
<div class="pl" style="top:161.9px">112,000.00</div>
<div class="pl" style="top:191.4px">108,000.00</div>
<div class="pl" style="top:221.0px">104,000.00</div>
<div class="pl" style="top:250.6px">100,000.00</div>
<div class="pl" style="top:280.1px">96,000.00</div>
<div class="pl" style="top:309.7px">92,000.00</div>
<div class="pl" style="top:339.3px">88,000.00</div>
<div class="pl" style="top:368.8px">84,000.00</div>
<div class="pl" style="top:398.4px">80,000.00</div>
<div class="pl" style="top:428.0px">76,000.00</div>
<div class="pl" style="top:457.5px">72,000.00</div>
<div class="pl" style="top:487.1px">68,000.00</div>
<div class="pl" style="top:516.7px">64,000.00</div>
<div class="pl" style="top:546.2px">60,000.00</div>
<div class="pl" style="top:575.8px">56,000.00</div>
<div class="pl" style="top:605.4px">52,000.00</div>
<div class="pl" style="top:634.9px">48,000.00</div>
<div class="pl" style="top:664.5px">44,000.00</div>
<div class="abs" style="left:939px;top:490.8px;width:71.4px;height:29.8px;background:#4fa58b;border-radius:2px"></div>
<div class="abs" style="left:947px;top:491.5px;font-size:12px;line-height:14px;color:#f2f2f2;letter-spacing:0.3px">67,410.36</div>
<div class="abs" style="left:947px;top:505px;font-size:12px;line-height:14px;color:#e8f4ef;letter-spacing:0.3px">09:58:12</div>

<div class="tl" style="left:23.0px">Oct</div>
<div class="tl" style="left:144.5px">Nov</div>
<div class="tl" style="left:262.0px">Dec</div>
<div class="tl b" style="left:383.7px">2026</div>
<div class="tl" style="left:505.7px">Feb</div>
<div class="tl" style="left:614.6px">Mar</div>
<div class="tl" style="left:736.6px">Apr</div>
<div class="tl" style="left:854.0px">May</div>
<svg width="20" height="20" style="left:970px;top:702.4px"><path d="M3.3 10 L6.7 4.1 L13.6 4.1 L17 10 L13.6 15.9 L6.7 15.9 Z" stroke="#cfcfcf" stroke-width="1.1" fill="none"/><circle cx="10.1" cy="10" r="2" stroke="#cfcfcf" stroke-width="1.1" fill="none"/></svg>

<!-- TV logo -->
<svg width="40" height="20" style="left:15px;top:668px">
<path d="M2 2.9 H13.6 V17.2 H8 V8.5 H2 Z" fill="#e2e2e2"/>
<circle cx="18.7" cy="5.7" r="2.8" fill="#e2e2e2"/>
<path d="M24.1 2.9 H31 L25.9 17.2 H19.2 Z" fill="#e2e2e2"/>
</svg>
<div class="abs" style="left:53px;top:665px;font-size:19.5px;line-height:24px;color:#e2e2e2;font-weight:bold;letter-spacing:0.1px">TradingView</div>

<!-- events -->
<svg width="60" height="50" style="left:740px;top:645px">
<path d="M13.86 13.82 A9.3 9.3 0 1 1 16.26 23.8" stroke="#a96ad6" stroke-width="1.8" fill="none"/>
<circle cx="29.2" cy="11" r="4.3" fill="#0f0f0f"/>
<circle cx="29.2" cy="11" r="2.6" fill="#e8636b"/>
<path d="M24.8 12.8 L20.6 17.6 H24.3 L19.8 22" stroke="#b35ae6" stroke-width="1.4" fill="none" stroke-linejoin="miter"/>
<path d="M12.4 16 Q12.9 20.1 17 20.6 Q12.9 21.1 12.4 25.2 Q11.9 21.1 7.8 20.6 Q11.9 20.1 12.4 16Z" fill="#7c5cf6"/>
</svg>
<svg width="60" height="30" style="left:740px;top:671px">
<defs><clipPath id="fc"><circle cx="0" cy="0" r="7.4"/></clipPath></defs>
<g transform="translate(46.3 15)"><circle cx="0" cy="0" r="10" fill="#d9585f"/><circle cx="0" cy="0" r="8.4" fill="#1c0a0b"/>
<g clip-path="url(#fc)"><rect x="-8" y="-8" width="16" height="16" fill="#ececec"/>
<rect x="1.6" y="-6.4" width="7" height="1.6" fill="#de5a5a"/><rect x="1.6" y="-3.2" width="7" height="1.6" fill="#de5a5a"/><rect x="1.6" y="-0.1" width="7" height="1.7" fill="#de5a5a"/>
<rect x="-8" y="4" width="16" height="5" fill="#de5a5a"/><rect x="-8" y="5.4" width="16" height="1" fill="#e8b0b0"/>
<rect x="-8" y="-8" width="9.6" height="9.6" fill="#4f86dc"/>
<rect x="-5.2" y="-6" width="0.9" height="6" fill="#b8d0f0"/><rect x="-2.2" y="-6" width="0.9" height="6" fill="#b8d0f0"/>
<rect x="-7" y="-4.6" width="8" height="0.9" fill="#b8d0f0"/><rect x="-7" y="-1.8" width="8" height="0.9" fill="#b8d0f0"/></g></g>
<g transform="translate(33.9 15)"><circle cx="0" cy="0" r="10" fill="#d9585f"/><circle cx="0" cy="0" r="8.4" fill="#1c0a0b"/>
<g clip-path="url(#fc)"><rect x="-8" y="-8" width="16" height="16" fill="#ececec"/>
<rect x="1.6" y="-6.4" width="7" height="1.6" fill="#de5a5a"/><rect x="1.6" y="-3.2" width="7" height="1.6" fill="#de5a5a"/><rect x="1.6" y="-0.1" width="7" height="1.7" fill="#de5a5a"/>
<rect x="-8" y="4" width="16" height="5" fill="#de5a5a"/><rect x="-8" y="5.4" width="16" height="1" fill="#e8b0b0"/>
<rect x="-8" y="-8" width="9.6" height="9.6" fill="#4f86dc"/>
<rect x="-5.2" y="-6" width="0.9" height="6" fill="#b8d0f0"/><rect x="-2.2" y="-6" width="0.9" height="6" fill="#b8d0f0"/>
<rect x="-7" y="-4.6" width="8" height="0.9" fill="#b8d0f0"/><rect x="-7" y="-1.8" width="8" height="0.9" fill="#b8d0f0"/></g></g>
<g transform="translate(22 15)"><circle cx="0" cy="0" r="10" fill="#d9585f"/><circle cx="0" cy="0" r="8.4" fill="#1c0a0b"/>
<g clip-path="url(#fc)"><rect x="-8" y="-8" width="16" height="16" fill="#ececec"/>
<rect x="1.6" y="-6.4" width="7" height="1.6" fill="#de5a5a"/><rect x="1.6" y="-3.2" width="7" height="1.6" fill="#de5a5a"/><rect x="1.6" y="-0.1" width="7" height="1.7" fill="#de5a5a"/>
<rect x="-8" y="4" width="16" height="5" fill="#de5a5a"/><rect x="-8" y="5.4" width="16" height="1" fill="#e8b0b0"/>
<rect x="-8" y="-8" width="9.6" height="9.6" fill="#4f86dc"/>
<rect x="-5.2" y="-6" width="0.9" height="6" fill="#b8d0f0"/><rect x="-2.2" y="-6" width="0.9" height="6" fill="#b8d0f0"/>
<rect x="-7" y="-4.6" width="8" height="0.9" fill="#b8d0f0"/><rect x="-7" y="-1.8" width="8" height="0.9" fill="#b8d0f0"/></g></g>
</svg>

<!-- bottom toolbar -->
<div class="tb" style="left:20.5px">1D</div>
<div class="tb" style="left:48.8px">5D</div>
<div class="tb" style="left:79px">1M</div>
<div class="tb" style="left:110px">3M</div>
<div class="tb" style="left:141.6px">6M</div>
<div class="tb" style="left:173px">YTD</div>
<div class="tb" style="left:212.5px">1Y</div>
<div class="tb" style="left:240px">5Y</div>
<div class="tb" style="left:268.5px">All</div>
<div class="abs" style="left:293px;top:734px;width:1px;height:21.5px;background:#3a3a3a"></div>
<svg width="22" height="22" style="left:305px;top:733px">
<path d="M3.1 10 V5.6 Q3.1 4.1 4.6 4.1 H18.3 Q19.8 4.1 19.8 5.6 V17.2 Q19.8 18.7 18.3 18.7 H11" stroke="#cfcfcf" stroke-width="1.3" fill="none"/>
<path d="M3.1 8.2 H19.8" stroke="#cfcfcf" stroke-width="1.3"/>
<path d="M8.1 2 V5 M14.8 2 V5" stroke="#cfcfcf" stroke-width="1.3"/>
<path d="M1.6 15.8 H8.6 M6.1 13.3 L8.6 15.8 L6.1 18.3" stroke="#cfcfcf" stroke-width="1.3" fill="none"/>
</svg>
<div class="tb" style="left:924px;top:736px">14:01:47 UTC</div>
</body></html>
